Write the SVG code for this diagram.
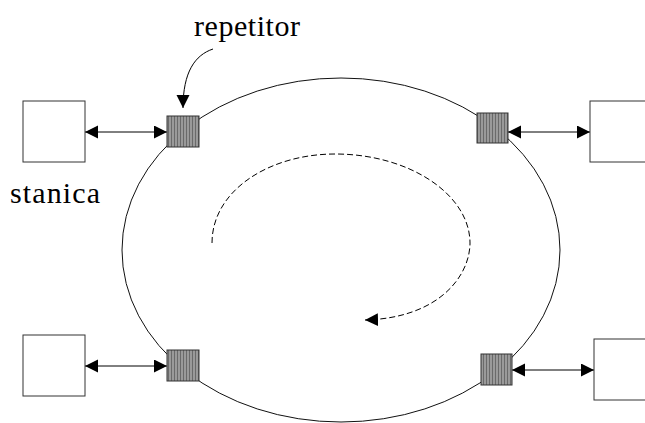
<svg xmlns="http://www.w3.org/2000/svg" width="645" height="423" viewBox="0 0 645 423">
<style>
.station{fill:#fff;stroke:#333;stroke-width:1}
.rep{fill:url(#stripes);stroke:#333;stroke-width:1}
.link{fill:none;stroke:#000;stroke-width:1}
</style>
<defs>
<pattern id="stripes" patternUnits="userSpaceOnUse" width="3" height="4">
<rect width="3" height="4" fill="#9a9a9a"/>
<rect width="1" height="4" fill="#6a6a6a"/>
</pattern>
<marker id="ah" markerUnits="userSpaceOnUse" markerWidth="14" markerHeight="14" refX="13" refY="6.5" orient="auto-start-reverse">
<path d="M0,0 L13,6.5 L0,13 z" fill="#000"/>
</marker>
</defs>
<g id="ring">
<ellipse cx="341" cy="250" rx="219" ry="172" fill="none" stroke="#111" stroke-width="1"/>
</g>
<g id="connectors">
<line class="link" x1="85" y1="132" x2="167" y2="132" marker-start="url(#ah)" marker-end="url(#ah)"/>
<line class="link" x1="508" y1="132" x2="590" y2="132" marker-start="url(#ah)" marker-end="url(#ah)"/>
<line class="link" x1="85" y1="366" x2="167" y2="366" marker-start="url(#ah)" marker-end="url(#ah)"/>
<line class="link" x1="512" y1="370" x2="594" y2="370" marker-start="url(#ah)" marker-end="url(#ah)"/>
<path class="link" d="M213,49 C195,55 183,72 183,108" marker-end="url(#ah)"/>
<path class="link" d="M212,243 C212,190 270,154 335,154 C410,154 470,195 470,243 C470,275 440,318 365,320" stroke-width="1.5" stroke-dasharray="6,3" marker-end="url(#ah)"/>
</g>
<g id="station-tl"><rect class="station" x="23" y="101" width="62" height="61"/></g>
<g id="station-tr"><rect class="station" x="590" y="101" width="62" height="61"/></g>
<g id="station-bl"><rect class="station" x="23" y="335" width="62" height="61"/></g>
<g id="station-br"><rect class="station" x="594" y="339" width="62" height="61"/></g>
<g id="rep-tl"><rect class="rep" x="167" y="116" width="32" height="31"/></g>
<g id="rep-tr"><rect class="rep" x="477" y="113" width="31" height="30"/></g>
<g id="rep-bl"><rect class="rep" x="167" y="350" width="32" height="31"/></g>
<g id="rep-br"><rect class="rep" x="481" y="354" width="31" height="31"/></g>
<g id="labels" font-family="Liberation Serif, Times New Roman, serif" font-size="30" fill="#000">
<text x="194" y="36" textLength="106" lengthAdjust="spacing">repetitor</text>
<text x="10" y="203" textLength="90" lengthAdjust="spacing">stanica</text>
</g>
</svg>
